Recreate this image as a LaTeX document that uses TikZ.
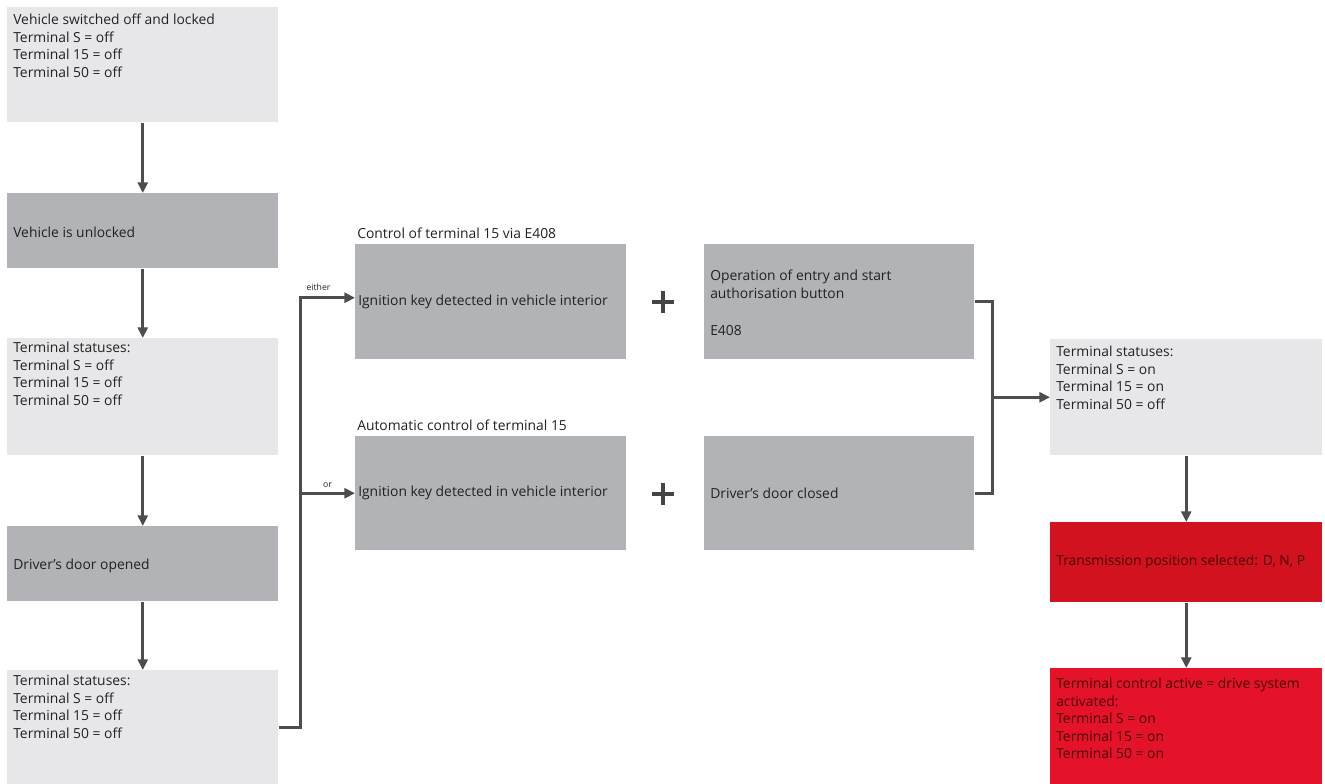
\documentclass[tikz,border=0pt]{standalone}
\usepackage{fontspec}
\setmainfont{Open Sans}
\usetikzlibrary{arrows.meta,calc}
\definecolor{lgray}{HTML}{E7E7E9}
\definecolor{dgray}{HTML}{B1B3B6}
\definecolor{redA}{HTML}{D2121F}
\definecolor{redB}{HTML}{E4132A}
\definecolor{lineC}{HTML}{4D4D4F}
\definecolor{txtC}{HTML}{222222}
\definecolor{redtxt}{HTML}{4A0508}
\begin{document}
\begin{tikzpicture}[x=0.75pt,y=-0.75pt,
  bx/.style n args={3}{rectangle, fill=#1, draw=none, inner sep=0pt, anchor=north west,
     minimum width=#2*0.75pt, minimum height=#3*0.75pt},
  txt/.style={anchor=north west, inner sep=0pt, align=left,
     font=\fontsize{10.4}{13.1}\selectfont, text=txtC},
  ctxt/.style={txt, anchor=west},
  small/.style={inner sep=0pt, font=\fontsize{6.5}{7.5}\selectfont, text=txtC},
  conn/.style={draw=lineC, line width=2.2pt},
  arr/.style={conn, -{Triangle[length=8pt,width=7.5pt]}},
  plus/.style={draw=lineC!90!black, line width=3pt}
]
\useasboundingbox[fill=white] (0,0) rectangle (1325,784);

% left column
\node[bx={lgray}{271}{115}] (b1) at (7,7) {};
\node[txt] (b1t) at ($(b1.north west)+(6,7)$) {Vehicle switched off and locked\\Terminal S = off\\Terminal 15 = off\\Terminal 50 = off};
\node[bx={dgray}{271}{75}] (b2) at (7,193) {};
\node[ctxt] (b2t) at ($(b2.west)+(6,2)$) {Vehicle is unlocked};
\node[bx={lgray}{271}{117}] (b3) at (7,338) {};
\node[txt] (b3t) at ($(b3.north west)+(6,4)$) {Terminal statuses:\\Terminal S = off\\Terminal 15 = off\\Terminal 50 = off};
\node[bx={dgray}{271}{75}] (b4) at (7,526) {};
\node[ctxt] (b4t) at ($(b4.west)+(6,2)$) {Driver's door opened};
\node[bx={lgray}{271}{114}] (b5) at (7,670) {};
\node[txt] (b5t) at ($(b5.north west)+(6,5)$) {Terminal statuses:\\Terminal S = off\\Terminal 15 = off\\Terminal 50 = off};

% middle column
\node[bx={dgray}{271}{115}] (m1) at (355,244) {};
\node[ctxt] (m1t) at ($(m1.west)+(3,0)$) {Ignition key detected in vehicle interior};
\node[txt, anchor=base west] (m1l) at ($(m1.north west)+(2,-5)$) {Control of terminal 15 via E408};
\node[bx={dgray}{271}{114}] (m2) at (355,436) {};
\node[ctxt] (m2t) at ($(m2.west)+(3,0)$) {Ignition key detected in vehicle interior};
\node[txt, anchor=base west] (m2l) at ($(m2.north west)+(2,-5)$) {Automatic control of terminal 15};

% right middle column
\node[bx={dgray}{270}{115}] (c1) at (704,244) {};
\node[txt] (c1t) at ($(c1.north west)+(6,26)$) {Operation of entry and start\\authorisation button\\[15pt]E408};
\node[bx={dgray}{270}{114}] (c2) at (704,436) {};
\node[ctxt] (c2t) at ($(c2.west)+(6,0)$) {Driver's door closed};

% right column
\node[bx={lgray}{272}{116}] (e) at (1050,339) {};
\node[txt] (et) at ($(e.north west)+(6,7)$) {Terminal statuses:\\Terminal S = on\\Terminal 15 = on\\Terminal 50 = off};
\node[bx={redA}{272}{80}] (r1) at (1050,522) {};
\node[ctxt, text=redtxt] (r1t) at ($(r1.west)+(6,0)$) {Transmission position selected: D, N, P};
\node[bx={redB}{272}{116}] (r2) at (1050,668) {};
\node[txt, text=redtxt] (r2t) at ($(r2.north west)+(6,10)$) {Terminal control active = drive system\\activated:\\Terminal S = on\\Terminal 15 = on\\Terminal 50 = on};

% vertical arrows left
\draw[arr] (b1.south) -- (b2.north);
\draw[arr] (b2.south) -- (b3.north);
\draw[arr] (b3.south) -- (b4.north);
\draw[arr] (b4.south) -- (b5.north);

% branch to middle
\draw[arr] (b5.east) -- ++(22,0) coordinate (j) |- ($(m1.west)+(0,-4)$);
\draw[arr] (j |- m2.west) -- (m2.west);
\node[small, anchor=base] (either) at ($(j |- m1.west)+(18,-11)$) {either};
\node[small, anchor=base] (orl) at ($(j |- m2.west)+(27,-6)$) {or};

% plus signs
\coordinate (p1) at (663,302);
\coordinate (p2) at (663,494);
\draw[plus] ($(p1)+(-11,0)$) -- ($(p1)+(11,0)$) ($(p1)+(0,-11)$) -- ($(p1)+(0,11)$);
\draw[plus] ($(p2)+(-11,0)$) -- ($(p2)+(11,0)$) ($(p2)+(0,-11)$) -- ($(p2)+(0,11)$);

% bracket
\draw[conn] (c1.east) -- ++(18,0) coordinate (k) -- (k |- c2.east) -- (c2.east);
\draw[arr] (k |- e.west) -- (e.west);

% right arrows
\draw[arr] (e.south) -- (r1.north);
\draw[arr] (r1.south) -- (r2.north);
\end{tikzpicture}
\end{document}
